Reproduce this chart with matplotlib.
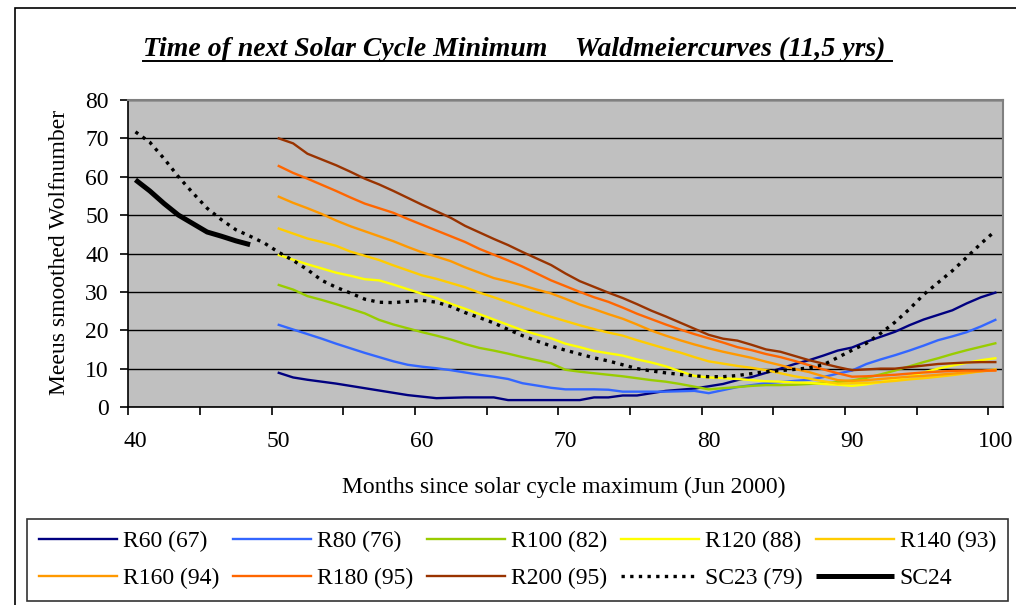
import matplotlib
matplotlib.use("Agg")
import matplotlib.pyplot as plt
from matplotlib.lines import Line2D
from matplotlib.patches import Rectangle

plt.rcParams['font.family'] = ['Liberation Serif', 'DejaVu Serif']

# months since solar cycle maximum
months_r = list(range(50, 101))
months_sc23 = list(range(40, 101))
months_sc24 = list(range(40, 49))

r60 = [8.9, 7.7, 7.1, 6.6, 6.1, 5.5, 4.9, 4.3, 3.7, 3.1, 2.7, 2.3, 2.4, 2.5, 2.5, 2.5,
       1.8, 1.8, 1.8, 1.8, 1.8, 1.8, 2.5, 2.5, 3.0, 3.0, 3.6, 4.2, 4.5, 4.8, 5.4, 6.0,
       7.0, 7.8, 8.9, 10.0, 11.2, 12.2, 13.4, 14.7, 15.5, 17.0, 18.3, 19.6, 21.3, 22.8,
       24.0, 25.2, 27.0, 28.6, 29.8]
r80 = [21.4, 20.2, 19.0, 17.8, 16.5, 15.3, 14.1, 13.0, 11.9, 11.0, 10.5, 10.1, 9.6, 9.0,
       8.4, 7.9, 7.3, 6.2, 5.6, 5.0, 4.6, 4.6, 4.6, 4.5, 4.0, 4.0, 4.0, 4.0, 4.1, 4.2, 3.6,
       4.4, 5.2, 5.7, 6.2, 6.5, 6.8, 7.1, 7.8, 8.7, 9.5, 11.2, 12.4, 13.5, 14.7, 16.0, 17.4,
       18.4, 19.5, 21.0, 22.7]
r100 = [31.8, 30.6, 28.9, 27.9, 26.8, 25.6, 24.4, 22.7, 21.5, 20.5, 19.5, 18.6, 17.6, 16.4,
        15.4, 14.7, 13.9, 13.0, 12.2, 11.4, 9.7, 9.2, 8.8, 8.4, 8.0, 7.5, 7.0, 6.6, 6.0, 5.3,
        4.6, 4.9, 5.2, 5.5, 5.7, 5.7, 5.8, 6.0, 6.2, 6.5, 6.9, 7.6, 8.5, 9.5, 10.6, 11.7,
        12.7, 13.8, 14.8, 15.7, 16.6]
r120 = [39.6, 38.4, 37.2, 36.1, 35.0, 34.2, 33.3, 33.0, 31.9, 30.7, 29.5, 28.4, 26.9, 25.6,
        24.2, 22.8, 21.4, 20.0, 18.9, 17.9, 16.5, 15.6, 14.6, 14.0, 13.4, 12.4, 11.6, 10.6,
        9.3, 8.1, 7.7, 7.5, 7.3, 7.0, 6.7, 6.6, 6.4, 6.3, 6.0, 5.8, 5.5, 5.9, 6.5, 7.2, 8.0,
        9.0, 10.0, 10.8, 11.5, 12.2, 12.7]
r140 = [46.5, 45.2, 43.9, 43.0, 42.0, 40.5, 39.4, 38.3, 36.9, 35.6, 34.3, 33.4, 32.3, 31.2,
        29.8, 28.6, 27.3, 26.0, 24.7, 23.5, 22.4, 21.3, 20.3, 19.4, 18.6, 17.4, 16.3, 15.2,
        14.2, 13.0, 11.9, 11.3, 10.7, 10.2, 9.6, 8.8, 8.0, 7.4, 6.7, 6.1, 6.2, 6.3, 6.5, 6.8,
        7.2, 7.5, 7.9, 8.3, 8.8, 9.3, 9.8]
r160 = [54.8, 53.2, 51.8, 50.3, 48.6, 47.1, 45.8, 44.5, 43.2, 41.7, 40.3, 39.2, 38.0, 36.4,
        35.0, 33.6, 32.7, 31.7, 30.6, 29.6, 28.2, 26.7, 25.5, 24.2, 23.0, 21.5, 19.9, 18.6,
        17.4, 16.3, 15.3, 14.4, 13.6, 12.8, 11.8, 10.9, 9.9, 9.1, 8.0, 7.0, 6.8, 7.0, 7.3,
        7.6, 7.9, 8.1, 8.4, 8.7, 9.0, 9.3, 9.6]
r180 = [62.8, 61.0, 59.5, 57.9, 56.3, 54.6, 53.0, 51.8, 50.6, 49.0, 47.5, 46.0, 44.5, 43.0,
        41.2, 39.7, 38.2, 36.6, 34.8, 33.0, 31.5, 30.0, 28.6, 27.4, 25.9, 24.3, 22.9, 21.5,
        20.2, 19.0, 17.9, 16.8, 15.6, 14.8, 13.8, 13.0, 12.0, 10.9, 9.8, 8.8, 7.9, 8.0, 8.2,
        8.4, 8.7, 9.0, 9.2, 9.4, 9.5, 9.5, 9.5]
r200 = [70.0, 68.7, 66.0, 64.5, 63.0, 61.3, 59.5, 58.0, 56.3, 54.5, 52.7, 51.0, 49.3, 47.2,
        45.5, 43.8, 42.2, 40.4, 38.7, 37.0, 34.8, 32.8, 31.3, 29.8, 28.4, 26.8, 25.1, 23.6,
        22.0, 20.4, 18.8, 17.8, 17.3, 16.2, 15.0, 14.4, 13.3, 12.2, 11.3, 10.4, 9.6, 9.8,
        10.0, 10.0, 10.4, 10.8, 11.2, 11.4, 11.6, 11.7, 11.7]
sc23 = [71.7, 69.0, 64.7, 60.0, 55.8, 51.8, 48.8, 46.2, 44.5, 42.7, 40.3, 38.2, 35.8, 33.0,
        31.2, 29.7, 28.1, 27.3, 27.2, 27.5, 27.8, 27.3, 26.2, 24.6, 23.3, 21.9, 20.2, 18.6,
        17.2, 15.9, 14.8, 13.8, 12.8, 12.0, 11.0, 10.0, 9.4, 8.9, 8.5, 8.1, 7.9, 7.9, 8.2,
        8.7, 9.2, 9.5, 9.8, 10.2, 11.0, 12.9, 14.8, 16.6, 19.2, 22.1, 25.5, 29.3, 32.4, 35.5,
        39.0, 42.6, 45.9]
sc24 = [59.2, 56.3, 53.0, 50.0, 47.8, 45.6, 44.5, 43.3, 42.3]

names = ["R60 (67)", "R80 (76)", "R100 (82)", "R120 (88)", "R140 (93)",
         "R160 (94)", "R180 (95)", "R200 (95)"]
colors = ["#000080", "#3366FF", "#99CC00", "#FFFF00", "#FFCC00",
          "#FF9900", "#FF6600", "#993300"]
curves = [r60, r80, r100, r120, r140, r160, r180, r200]

FS = 17

fig = plt.figure(figsize=(10.16, 6.05), dpi=100)
W, H = 1016, 605

# outer chart frame (runs off the right and bottom edge)
fig.patches.append(Rectangle((15 / W, -0.1), 1.2, 1 - 8 / H + 0.1, transform=fig.transFigure,
                             fill=False, edgecolor="black", linewidth=1.2))

ax = fig.add_axes([128.3 / W, 1 - 407 / H, (1002.5 - 128.3) / W, (407 - 100) / H])
ax.set_facecolor("#C0C0C0")

handles = []
for vals, c, n in zip(curves, colors, names):
    h, = ax.plot(months_r, vals, color=c, lw=1.7, label=n)
    handles.append(h)
h, = ax.plot(months_sc23, sc23, color="black", lw=2.4, linestyle=(0, (1, 1.6)), label="SC23 (79)")
handles.append(h)
h, = ax.plot(months_sc24, sc24, color="black", lw=3.6, solid_capstyle="butt", label="SC24")
handles.append(h)

ax.set_xlim(39.5, 100.5)
ax.set_ylim(0, 80)
ax.set_yticks(range(0, 81, 10))
ax.set_xticks(range(40, 101, 10))
ax.set_xticks([39.5 + 5 * k for k in range(13)], minor=True)
ax.tick_params(axis="x", which="major", length=0, pad=17, labelsize=FS)
ax.tick_params(axis="x", which="minor", length=6, width=1.2, direction="out")
ax.tick_params(axis="y", length=6, width=1.2, direction="out", pad=8, labelsize=FS)
ax.yaxis.grid(True, color="black", linewidth=1.0)
ax.set_axisbelow(True)
for s in ["top", "right"]:
    ax.spines[s].set_color("#808080")
    ax.spines[s].set_linewidth(1.5)
for s in ["left", "bottom"]:
    ax.spines[s].set_color("black")
    ax.spines[s].set_linewidth(1.2)

fig.text(60 / W, 1 - 252 / H, "Meeus smoothed Wolfnumber", rotation=90,
         ha="center", va="center", fontsize=FS)
fig.text(564 / W, 1 - 487 / H, "Months since solar cycle maximum (Jun 2000)",
         ha="center", va="center", fontsize=FS)

title = fig.text(143 / W, 1 - 56 / H,
                 "Time of next Solar Cycle Minimum    Waldmeiercurves (11,5 yrs) ",
                 ha="left", va="baseline", fontsize=20, fontweight="bold", fontstyle="italic")
fig.canvas.draw()
bb = title.get_window_extent()
fig.lines.append(Line2D([bb.x0 / W, bb.x1 / W], [1 - 61 / H, 1 - 61 / H],
                        transform=fig.transFigure, color="black", lw=1.4))

# legend fills column by column: reorder so rows read as in the original
order = [0, 5, 1, 6, 2, 7, 3, 8, 4, 9]
leg = fig.legend([handles[i] for i in order], [handles[i].get_label() for i in order],
                 loc="lower left", bbox_to_anchor=(27 / W, 1 - 601 / H, (1008 - 27) / W, 85 / H),
                 ncol=5, mode="expand", fontsize=FS, handlelength=3.3, handletextpad=0.25,
                 borderaxespad=0, frameon=True, fancybox=False, edgecolor="black",
                 borderpad=0.5, labelspacing=0.65, columnspacing=0.5)
leg.get_frame().set_linewidth(1.2)

fig.savefig("out.png", dpi=100)
